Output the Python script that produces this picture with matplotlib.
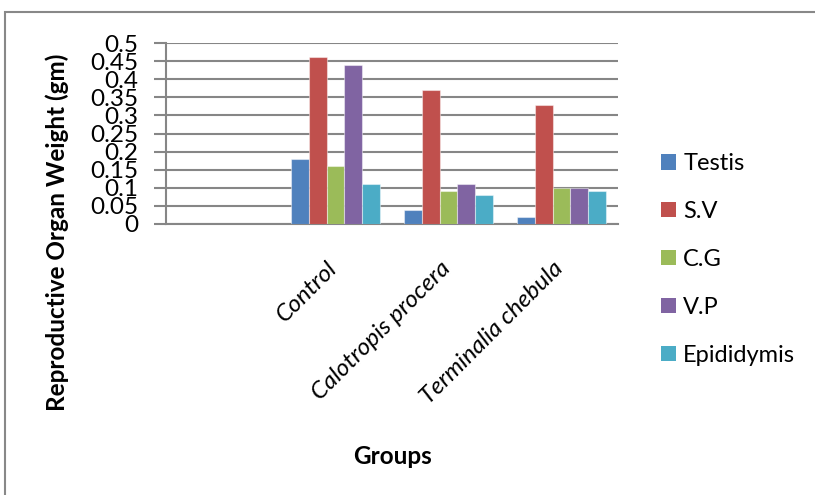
import numpy as np
import matplotlib
matplotlib.use("Agg")
import matplotlib.pyplot as plt
import matplotlib.transforms as mtransforms
from matplotlib.patches import Rectangle, Patch

plt.rcParams['font.family'] = ['Lato', 'DejaVu Sans']

groups = ["", "Control", "Calotropis procera", "Terminalia chebula"]
series = ["Testis", "S.V", "C.G", "V.P", "Epididymis"]
testis = [np.nan, 0.18, 0.04, 0.02]
sv = [np.nan, 0.46, 0.37, 0.33]
cg = [np.nan, 0.16, 0.09, 0.10]
vp = [np.nan, 0.44, 0.11, 0.10]
epididymis = [np.nan, 0.11, 0.08, 0.09]
yticks = [0, 0.05, 0.1, 0.15, 0.2, 0.25, 0.3, 0.35, 0.4, 0.45, 0.5]
ytick_labels = ["0", "0.05", "0.1", "0.15", "0.2", "0.25", "0.3", "0.35", "0.4", "0.45", "0.5"]

colors = ["#4F81BD", "#C0504D", "#9BBB59", "#8064A2", "#4BACC6"]
values = [testis, sv, cg, vp, epididymis]

W, H = 815, 495
fig = plt.figure(figsize=(W / 100, H / 100), dpi=100)

# outer frame
fig.add_artist(Rectangle((5 / W, -0.1), 2.0, (H - 12) / H + 0.1,
                         transform=fig.transFigure, fill=False,
                         edgecolor="#888888", linewidth=1.5))

ax = fig.add_axes([166 / W, 1 - 224 / H, (618 - 166) / W, (224 - 43) / H])

x = np.arange(len(groups))
bw = 0.157
for i, (name, vals, c) in enumerate(zip(series, values, colors)):
    offs = (i - 2) * bw
    ax.bar(x + offs, vals, width=bw, color=c, edgecolor=(1, 1, 1, 0.45),
           linewidth=0.8, label=name, zorder=3)

ax.set_xlim(-0.5, len(groups) - 0.5)
ax.set_ylim(0, 0.5)
ax.set_yticks(yticks)
ax.set_yticklabels(ytick_labels, fontsize=17.5)
ax.yaxis.grid(True, color="#868686", linewidth=1.5, zorder=0)
ax.set_axisbelow(True)
ax.tick_params(axis='y', length=9, width=1.5, color="#868686", pad=11)
ax.tick_params(axis='x', length=0, pad=0)
for s in ["top", "right"]:
    ax.spines[s].set_visible(False)
for s in ["left", "bottom"]:
    ax.spines[s].set_color("#868686")
    ax.spines[s].set_linewidth(1.5)

ax.set_xticks(x)
ax.set_xticklabels(groups, rotation=45, ha="right", rotation_mode="anchor",
                   fontsize=17.5, style="italic")
shift = mtransforms.ScaledTranslation(-9 / 100, -34 / 100, fig.dpi_scale_trans)
for lab in ax.get_xticklabels():
    lab.set_transform(lab.get_transform() + shift)

fig.text(57 / W, 1 - 232 / H, "Reproductive Organ Weight (gm)", fontsize=17.5,
         fontweight="bold", rotation=90, ha="center", va="center")
fig.text(392 / W, 1 - 457 / H, "Groups", fontsize=17.5, fontweight="bold",
         ha="center", va="center")

handles = [Patch(facecolor=c, edgecolor="none") for c in colors]
fig.legend(handles, series, loc="upper left", bbox_to_anchor=(661 / W, 1 - 153 / H),
           frameon=False, fontsize=17, handlelength=0.64, handleheight=0.64,
           handletextpad=0.3, labelspacing=1.14, borderaxespad=0, borderpad=0)

fig.savefig("out.png", dpi=100)
